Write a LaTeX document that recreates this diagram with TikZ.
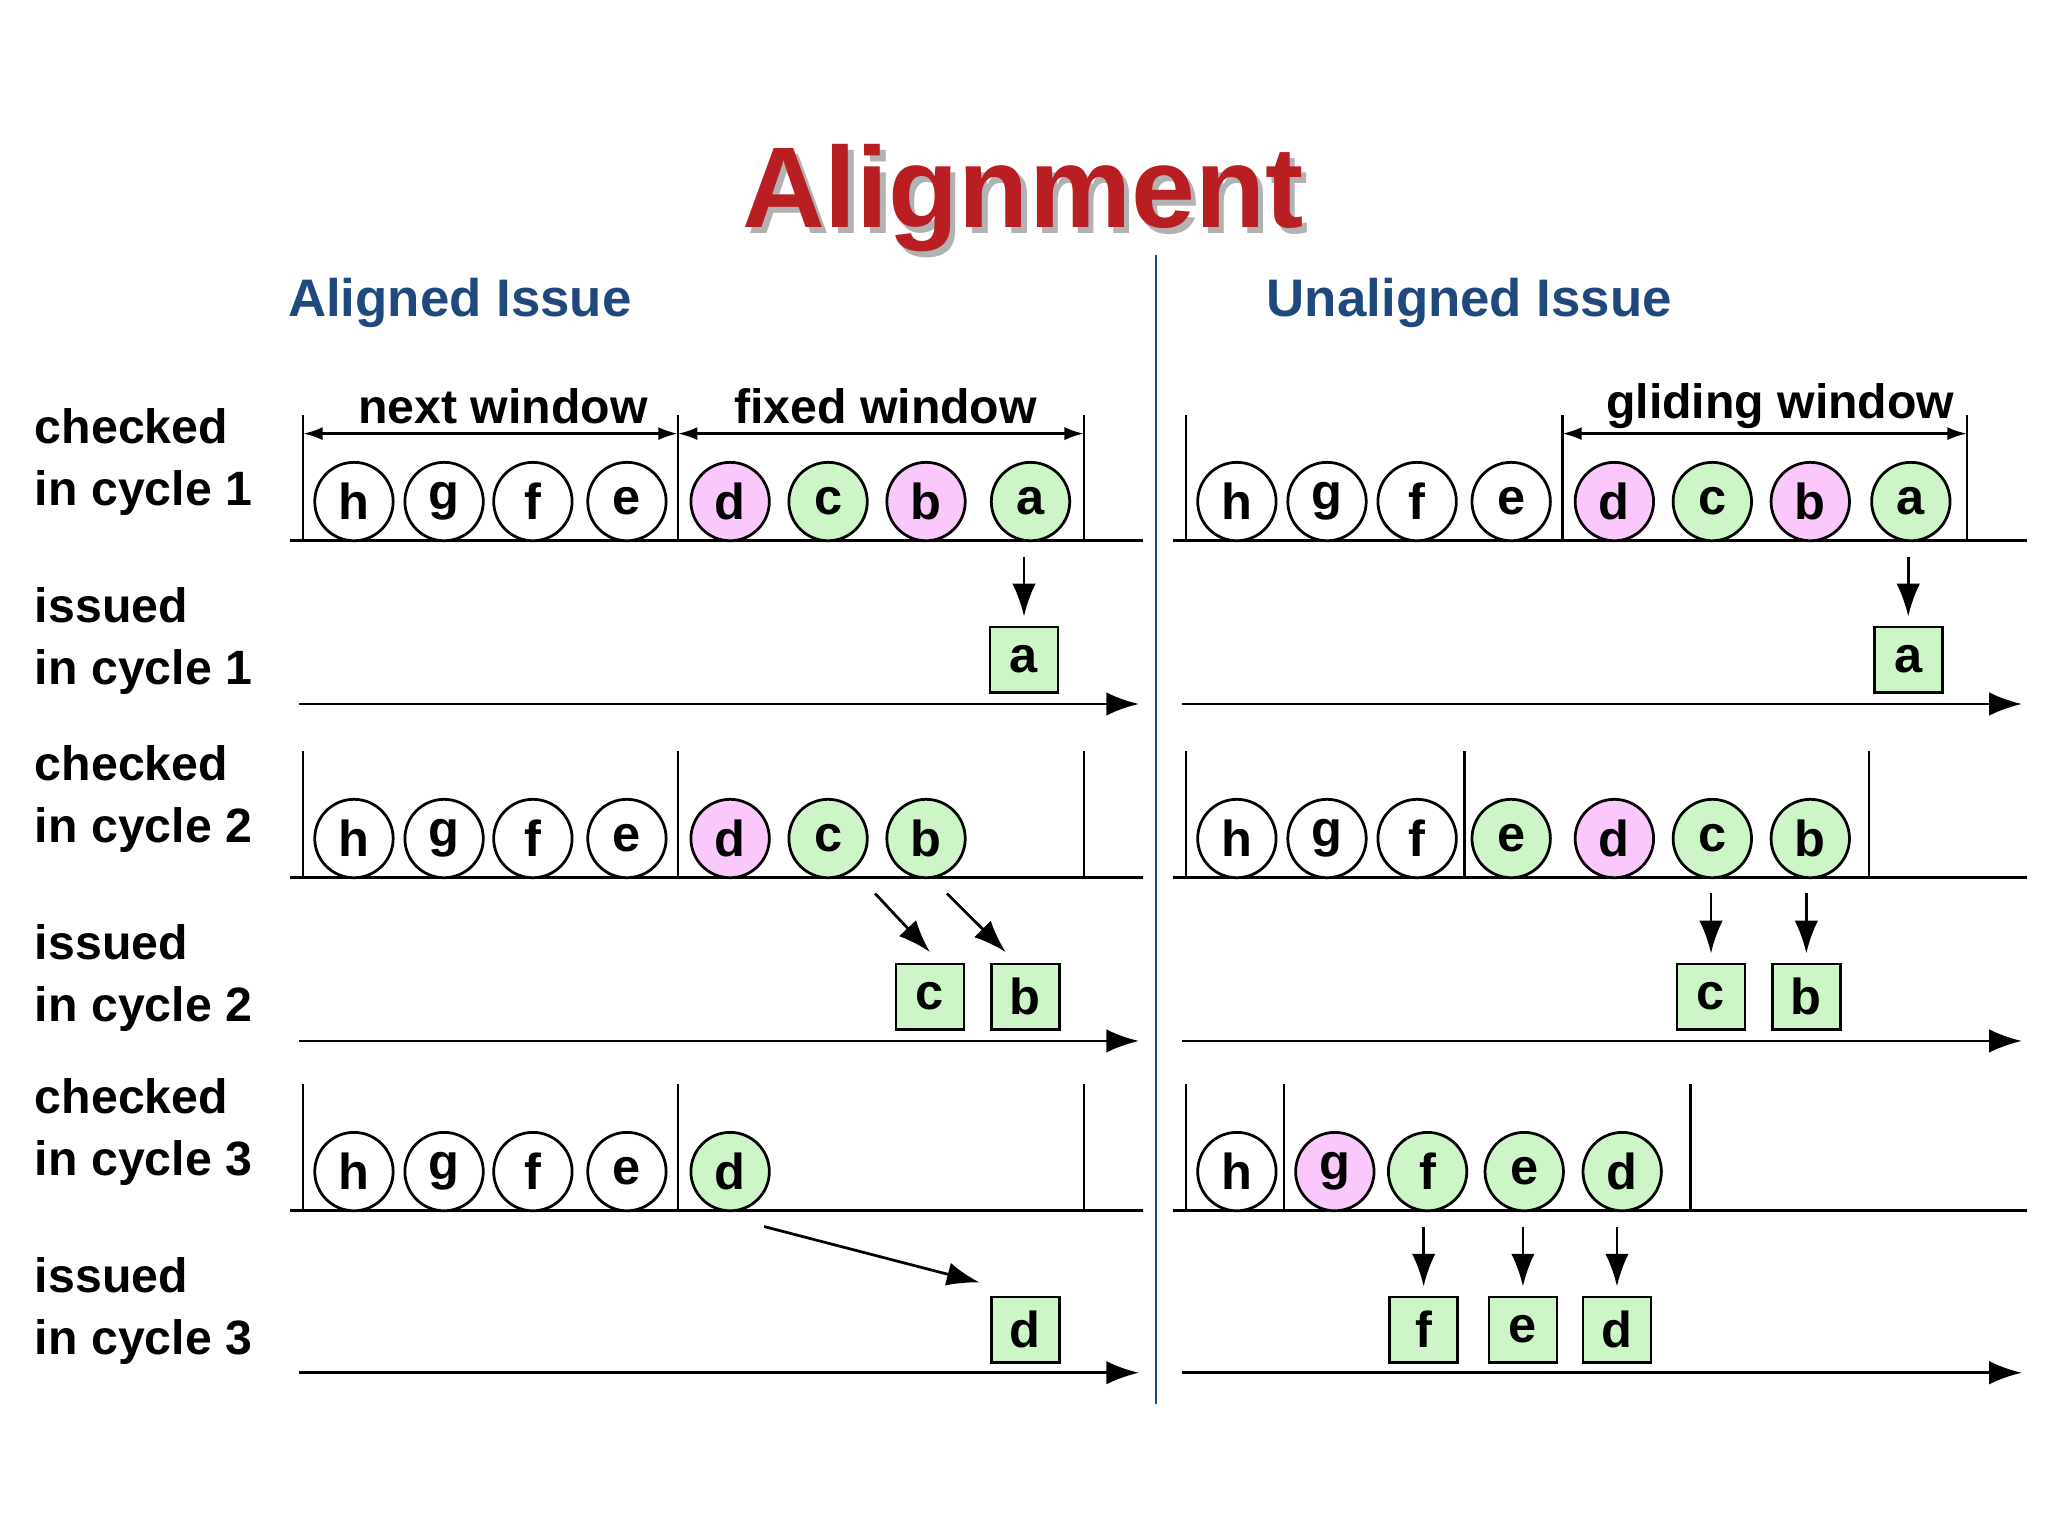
\documentclass[tikz,border=0pt]{standalone}
\usepackage{fontspec}
\setmainfont{Liberation Sans}
\usetikzlibrary{positioning, arrows.meta}
\definecolor{pk}{RGB}{250,200,250}
\definecolor{gr}{RGB}{205,245,200}
\definecolor{hd}{RGB}{31,73,125}
\definecolor{tr}{RGB}{185,30,35}
\begin{document}
\begin{tikzpicture}[x=0.01cm, y=-0.01cm, -{Latex[length=0.25cm, width=0.18cm]}, semithick,
cir/.style ={circle, draw, minimum size = 0.6cm, inner sep = 0pt, font = \bfseries\fontsize{11}{12}\selectfont},
box/.style ={draw, fill = gr, minimum width = 0.52cm, minimum height = 0.5cm, inner sep = 0pt, font = \bfseries\fontsize{11}{12}\selectfont},
lab/.style ={align = left, anchor = west, font = \bfseries\fontsize{10.5}{13.5}\selectfont},
txt/.style ={font = \bfseries\fontsize{10.5}{12}\selectfont}]
\useasboundingbox (0,0) rectangle (1568,1176);
% title
\node[text = black!30, font = \bfseries\fontsize{25}{28}\selectfont] at (787,156) {Alignment};
\node[text = tr, font = \bfseries\fontsize{25}{28}\selectfont] (T) at (783,152) {Alignment};
\node[text = hd, font = \bfseries\fontsize{11.5}{13}\selectfont] (HL) at (352,232) {Aligned Issue};
\node[text = hd, font = \bfseries\fontsize{11.5}{13}\selectfont] (HR) at (1125,232) {Unaligned Issue};
\draw[-, hd] (885,195) -- (885,1075);
% row labels
\node[lab] (L1) at (14,354) {checked\\in cycle 1};
\node[lab] (L2) at (14,491) {issued\\in cycle 1};
\node[lab] (L3) at (14,612) {checked\\in cycle 2};
\node[lab] (L4) at (14,749) {issued\\in cycle 2};
\node[lab] (L5) at (14,867) {checked\\in cycle 3};
\node[lab] (L6) at (14,1004) {issued\\in cycle 3};
% base lines and time axes
\foreach \y in {414,672,927} {
  \draw[-] (222,\y) -- (875,\y);
  \draw[-] (898,\y) -- (1552,\y);
}
\foreach \y in {539,797,1051} {
  \draw (229,\y) -- (872,\y);
  \draw (905,\y) -- (1548,\y);
}
% window borders
\foreach \x in {232,519,830} {
  \draw[-] (\x,318) -- (\x,414);
  \draw[-] (\x,575) -- (\x,672);
  \draw[-] (\x,830) -- (\x,927);
}
\foreach \x in {908,1196,1506} \draw[-] (\x,318) -- (\x,414);
\foreach \x in {908,1121,1431} \draw[-] (\x,575) -- (\x,672);
\foreach \x in {908,983,1294} \draw[-] (\x,830) -- (\x,927);
% window arrows
\coordinate (w1) at (232,332);
\coordinate (w2) at (519,332);
\coordinate (w3) at (830,332);
\coordinate (w4) at (1196,332);
\coordinate (w5) at (1506,332);
\draw[{Latex[length=0.15cm, width=0.1cm]}-{Latex[length=0.15cm, width=0.1cm]}] (w1) -- (w2);
\draw[{Latex[length=0.15cm, width=0.1cm]}-{Latex[length=0.15cm, width=0.1cm]}] (w2) -- (w3);
\draw[{Latex[length=0.15cm, width=0.1cm]}-{Latex[length=0.15cm, width=0.1cm]}] (w4) -- (w5);
\node[txt] (nw) at (385,311) {next window};
\node[txt] (fw) at (678,311) {fixed window};
\node[txt] (gw) at (1363,311) {gliding window};
% left: checked
\foreach \l/\x/\c in {h/271/white, g/340/white, f/408/white, e/480/white, d/559/pk, c/634/gr, b/709/pk, a/789/gr}
  \node[cir, fill = \c] (la\l) at (\x,384) {\l};
\foreach \l/\x/\c in {h/271/white, g/340/white, f/408/white, e/480/white, d/559/pk, c/634/gr, b/709/gr}
  \node[cir, fill = \c] (lb\l) at (\x,642) {\l};
\foreach \l/\x/\c in {h/271/white, g/340/white, f/408/white, e/480/white, d/559/gr}
  \node[cir, fill = \c] (lc\l) at (\x,897) {\l};
% right: checked
\foreach \l/\x/\c in {h/947/white, g/1016/white, f/1085/white, e/1157/white, d/1236/pk, c/1311/gr, b/1386/pk, a/1463/gr}
  \node[cir, fill = \c] (ra\l) at (\x,384) {\l};
\foreach \l/\x/\c in {h/947/white, g/1016/white, f/1085/white, e/1157/gr, d/1236/pk, c/1311/gr, b/1386/gr}
  \node[cir, fill = \c] (rb\l) at (\x,642) {\l};
\foreach \l/\x/\c in {h/947/white, g/1022/pk, f/1093/gr, e/1167/gr, d/1242/gr}
  \node[cir, fill = \c] (rc\l) at (\x,897) {\l};
% issued boxes
\node[box] (ia) at (784,505) {a};
\node[box] (ic) at (712,763) {c};
\node[box] (ib) at (785,763) {b};
\node[box] (id) at (785,1018) {d};
\node[box] (ja) at (1461,505) {a};
\node[box] (jc) at (1310,763) {c};
\node[box] (jb) at (1383,763) {b};
\node[box] (jf) at (1090,1018) {f};
\node[box] (je) at (1166,1018) {e};
\node[box] (jd) at (1238,1018) {d};
% issue arrows
\draw ([yshift=-0.11cm]laa.south -| ia.north) -- ([yshift=0.07cm]ia.north);
\draw ([xshift=-0.39cm, yshift=-0.11cm]lbb.south) -- ([yshift=0.08cm]ic.north);
\draw ([xshift=0.16cm, yshift=-0.11cm]lbb.south) -- ([yshift=0.08cm, xshift=-0.15cm]ib.north);
\draw ([xshift=0.26cm, yshift=-0.11cm]lcd.south) -- ([yshift=0.1cm, xshift=-0.35cm]id.north);
\draw ([yshift=-0.11cm]raa.south -| ja.north) -- ([yshift=0.07cm]ja.north);
\draw ([yshift=-0.11cm]rbc.south -| jc.north) -- ([yshift=0.07cm]jc.north);
\draw ([yshift=-0.11cm]rbb.south -| jb.north) -- ([yshift=0.07cm]jb.north);
\draw ([yshift=-0.11cm]rcf.south -| jf.north) -- ([yshift=0.07cm]jf.north);
\draw ([yshift=-0.11cm]rce.south -| je.north) -- ([yshift=0.07cm]je.north);
\draw ([yshift=-0.11cm]rcd.south -| jd.north) -- ([yshift=0.07cm]jd.north);
\end{tikzpicture}
\end{document}
